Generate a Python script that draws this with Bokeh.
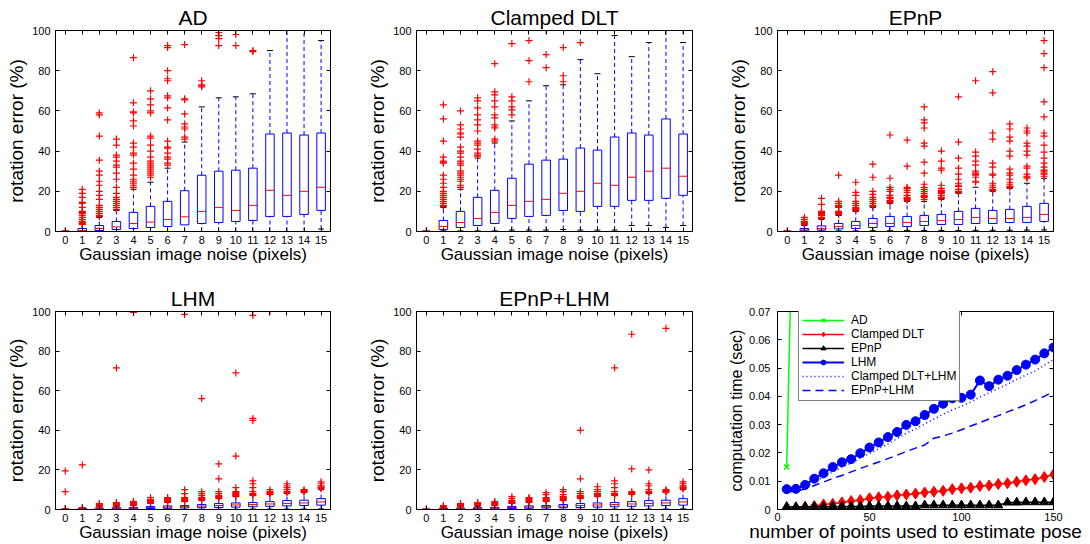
from bokeh.plotting import figure
from bokeh.layouts import column, row
from bokeh.models import (Range1d, FixedTicker, Legend, LegendItem, LinearAxis,
                          ColumnDataSource, CustomJSTickFormatter)
from bokeh.embed import file_html
from bokeh.resources import INLINE

FONT = "Liberation Sans"
BLUE = "#0000ff"
RED = "#ff0000"
GREEN = "#00ff00"

noise = list(range(16))
noise_ticks = list(range(16))
err_ticks = [0, 20, 40, 60, 80, 100]

# ---------------- AD ----------------
ad_lo = [0, 0, 0, 0, 0, 0, 0, 0, 0, 0, 0, 0, 0, 0, 0, 1.2]
ad_q1 = [0, 0.1, 0.5, 1, 1.5, 2, 2.5, 3.3, 4, 4.5, 5, 5.5, 7.5, 7.5, 8.5, 10.5]
ad_med = [0, 0.5, 1.5, 2.3, 4, 4.7, 6, 7.3, 10, 12, 10.5, 13, 20.5, 18, 20, 22]
ad_q3 = [0.1, 1.5, 3, 5, 9.5, 12.5, 15, 20.3, 28, 30, 30.5, 31.5, 48.5, 49, 48, 49]
ad_hi = [0.2, 3.5, 7, 10.5, 21, 24.5, 31.5, 44.5, 62, 66.5, 67, 68.5, 90, 130, 130, 95]
ad_out = [
    [0.3],
    [21, 19, 17, 14.5, 14, 12, 10, 9.5, 9, 8, 7, 6, 5, 4.5, 4, 3.5],
    [59, 58, 47.5, 35.5, 30, 28, 25, 23, 20, 18, 16, 13, 12, 11, 10, 9, 8, 7.5],
    [46, 43, 38, 37, 35, 33, 32, 29, 26, 22, 19, 17, 16, 15, 14, 13, 12, 11],
    [86.5, 64, 59.5, 59, 55, 52.5, 44, 42, 39, 38, 34, 31, 28, 26, 25, 24, 23, 22],
    [70, 66, 63, 60, 59, 47.5, 46.5, 43, 40, 37, 35, 34, 33, 32, 31, 30, 29, 28, 27],
    [92.5, 91.5, 80, 76, 75, 67.5, 66.5, 61.5, 55.5, 45, 42, 41.5, 39, 37, 36, 34, 33],
    [93, 66, 65.5, 58.5, 53.5, 52, 51, 47, 46],
    [75, 73, 72.5, 72],
    [99, 97.5, 96, 92.5],
    [98, 92.5],
    [90, 89.5],
    [], [], [], [],
]

# ---------------- Clamped DLT ----------------
dlt_lo = [0, 0.3, 0.3, 0.3, 0.3, 0.7, 0.7, 0.7, 1, 0.7, 0.7, 0.7, 3, 3, 2, 3]
dlt_q1 = [0, 1, 2, 3, 4, 6.5, 7.5, 8, 10.5, 10, 12.5, 12.5, 15.5, 15.5, 16.5, 18]
dlt_med = [0, 2.5, 4.5, 6.5, 9.5, 13, 15, 16, 19, 20, 24, 23, 27, 30, 31.5, 27.5]
dlt_q3 = [0.1, 5.5, 10, 17, 20.5, 26.5, 33.5, 35.5, 36, 41.5, 40.5, 47, 49, 48, 56, 48.5]
dlt_hi = [0.2, 12, 21, 36.5, 44, 55, 65, 72.5, 73, 85.5, 78.5, 97.5, 87, 94, 130, 94]
dlt_out = [
    [0.3],
    [63, 56, 45, 37, 35, 34.5, 34, 28, 26, 24, 22, 20, 19, 18, 17, 16, 15, 14, 13, 12.5],
    [60, 53, 51, 49, 48.5, 47, 42, 40, 39, 37, 35, 34, 33, 30, 29, 28, 27, 26, 25, 23, 22],
    [66.5, 65, 61.5, 58, 55.5, 53, 50, 45, 44, 43, 41, 39, 38, 37.5],
    [83.5, 69.5, 68, 65, 62, 58, 56.5, 53, 52, 51.5, 46, 45],
    [93.5, 67, 65, 62, 60.5, 58],
    [95, 85, 74.5],
    [100, 88, 81.5],
    [91.5, 77.5, 74.5],
    [94],
    [], [], [], [], [],
    [100],
]

# ---------------- EPnP ----------------
epnp_lo = [0, 0.1, 0.2, 0.3, 0.3, 0.4, 0.4, 0.5, 0.5, 0.5, 0.5, 0.6, 0.6, 0.6, 0.7, 0.8]
epnp_q1 = [0, 0.3, 0.7, 1.3, 1.5, 2, 2.5, 2.5, 3, 3.5, 3.5, 4, 4, 4.5, 4.5, 5]
epnp_med = [0, 0.8, 1.5, 2.5, 3, 4, 4, 4.5, 5, 5.5, 6, 7, 6.5, 6.5, 7, 8.5]
epnp_q3 = [0.1, 1.5, 2.8, 4, 5, 6.5, 7.5, 7.5, 8, 8.5, 10, 11.5, 10.5, 11, 12.5, 14]
epnp_hi = [0.2, 3, 6, 8, 10, 12, 14, 15, 15, 16, 19, 22, 20, 21.5, 24, 26.5]
epnp_out = [
    [0.3],
    [7, 6, 5, 4.5, 4, 3.5],
    [16.5, 13.5, 10, 9.5, 9, 8.5, 8, 7, 6.5],
    [28, 15, 14, 13, 12.5, 12, 10, 9.5, 9, 8.5],
    [24.5, 19.5, 18, 15, 14, 13, 12, 11.5, 11, 10.5],
    [33.5, 27, 20, 18.5, 17, 16, 15, 14, 13, 12.5],
    [48, 26.5, 22, 21, 20, 18, 17, 16.5, 15.5, 15, 14.5],
    [45.5, 32.5, 22, 21.5, 20.5, 19.5, 18, 17, 16.5, 16, 15.5],
    [62, 55.5, 54, 51.5, 44, 42.5, 34.5, 29, 23.5, 22, 21, 20, 19, 18, 17.5, 17, 16],
    [40, 35, 31.5, 30.5, 23, 21.5, 20.5, 20, 19.5, 19, 18, 17, 16.5],
    [67, 44.5, 36.5, 31.5, 28.5, 26, 24, 23, 22.5, 21, 20, 19.5],
    [75, 39.5, 37.5, 35, 33, 30, 29, 28.5, 28, 27, 25, 24.5],
    [79.5, 69, 49, 46, 34, 32, 28.5, 28, 24, 23, 22, 21, 20.5],
    [53.5, 51, 47, 45, 40, 37.5, 31, 29, 28, 26, 24.5, 23.5, 22.5, 22],
    [51.5, 50, 49, 44, 42.5, 40, 38, 32.5, 31.5, 28.5, 27.5, 27, 26.5],
    [95, 88.5, 81.5, 64.5, 57, 49, 47.5, 43, 39.5, 36.5, 34, 32, 30.5, 30, 29, 28.5, 27.5],
]

# ---------------- LHM ----------------
lhm_lo = [0, 0, 0, 0, 0, 0.1, 0.1, 0.1, 0.1, 0.1, 0.1, 0.2, 0.2, 0.2, 0.2, 0.3]
lhm_q1 = [0, 0.1, 0.2, 0.3, 0.4, 0.5, 0.6, 0.8, 0.9, 1, 1.2, 1.4, 1.6, 1.8, 2, 2.2]
lhm_med = [0, 0.3, 0.4, 0.6, 0.8, 1, 1.2, 1.4, 1.7, 2, 2.3, 2.5, 2.8, 3, 3.3, 3.8]
lhm_q3 = [0.1, 0.5, 0.7, 0.9, 1.1, 1.5, 1.8, 2, 2.5, 3, 3.3, 3.5, 4, 4.5, 4.7, 5.5]
lhm_hi = [0.2, 0.9, 1.3, 1.6, 2, 3, 3.5, 4, 4.5, 5.5, 6.5, 7, 7.5, 8, 8.5, 10]
lhm_out = [
    [19.5, 9, 0.5, 0.3],
    [22.5, 1, 0.8],
    [3, 2.5, 2, 1.5],
    [71.5, 3.5, 3, 2.5, 2, 1.8],
    [99.5, 4, 3.5, 3, 2.5, 2.2],
    [6, 5, 4.5, 4, 3.5, 3.2],
    [6, 5.5, 5, 4.5, 4, 3.8],
    [98.5, 10, 8, 6, 5.5, 5, 4.5, 4.2],
    [56, 9, 8, 7, 6, 5.5, 5, 4.8],
    [23, 15.5, 9, 8, 7, 6.5, 6, 5.8],
    [69, 27, 11, 9, 8.5, 8, 7.5, 7, 6.8],
    [98, 46, 45, 14.5, 13, 11, 9, 8, 7.5, 7.2],
    [100, 10, 9, 8.5, 8, 7.8],
    [13, 12, 11, 10, 9, 8.5],
    [10, 9.5, 9, 8.8],
    [14, 13, 12, 11.5, 11, 10.5],
]

# ---------------- EPnP+LHM ----------------
el_lo = [0, 0, 0, 0, 0, 0.1, 0.1, 0.1, 0.1, 0.1, 0.1, 0.2, 0.2, 0.2, 0.2, 0.3]
el_q1 = [0, 0.1, 0.2, 0.3, 0.4, 0.5, 0.6, 0.8, 0.9, 1, 1.2, 1.4, 1.6, 1.8, 2, 2.2]
el_med = [0, 0.3, 0.4, 0.6, 0.8, 1, 1.2, 1.4, 1.7, 2, 2.3, 2.5, 2.8, 3, 3.3, 3.8]
el_q3 = [0.1, 0.5, 0.7, 0.9, 1.1, 1.5, 1.8, 2, 2.5, 3, 3.3, 3.5, 4, 4.5, 4.7, 5.5]
el_hi = [0.2, 0.9, 1.3, 1.6, 2, 3, 3.5, 4, 4.5, 5.5, 6.5, 7, 7.5, 8, 8.5, 10]
el_out = [
    [0.3],
    [2, 1.5, 1, 0.8],
    [3, 2.5, 2, 1.5],
    [3.5, 3, 2.5, 2],
    [4, 3.5, 3, 2.5, 2.2],
    [6.5, 5.5, 4.5, 4, 3.5, 3.2],
    [6, 5.5, 5, 4.5, 4, 3.8],
    [8.5, 7.5, 6, 5.5, 5, 4.5, 4.2],
    [10, 9, 7.5, 6.5, 6, 5.5, 5, 4.8],
    [40, 15.5, 9, 8, 7, 6.5, 6, 5.8],
    [11.5, 10, 9, 8, 7.5, 7, 6.8],
    [71.5, 14.5, 13, 11, 9, 8, 7.5, 7.2],
    [100, 88.5, 20.5, 9, 8.5, 8, 7.8],
    [20, 13, 12, 10, 9, 8.5],
    [91.5, 10, 9.5, 9, 8.8],
    [14, 13, 12, 11.5, 11, 10.5],
]

# ---------------- computation time ----------------
npts = [5, 10, 15, 20, 25, 30, 35, 40, 45, 50, 55, 60, 65, 70, 75,
        80, 85, 90, 95, 100, 105, 110, 115, 120, 125, 130, 135, 140, 145, 150]
ad_npts = [5, 10]
ad_time = [0.015, 0.16]
dlt_time = [0.0003, 0.0005, 0.0008, 0.0012, 0.0018, 0.0020, 0.0025, 0.0030, 0.0033, 0.0040,
            0.0043, 0.0045, 0.0050, 0.0053, 0.0056, 0.0060, 0.0063, 0.0066, 0.0072, 0.0075,
            0.0077, 0.0083, 0.0085, 0.0090, 0.0093, 0.0098, 0.0103, 0.0107, 0.0115, 0.0124]
epnp_time = [0.0010, 0.0009, 0.0010, 0.0010, 0.0010, 0.0011, 0.0011, 0.0011, 0.0011, 0.0012,
             0.0012, 0.0012, 0.0012, 0.0012, 0.0012, 0.0015, 0.0015, 0.0015, 0.0015, 0.0015,
             0.0015, 0.0015, 0.0015, 0.0015, 0.0025, 0.0025, 0.0026, 0.0026, 0.0026, 0.0026]
lhm_time = [0.0072, 0.0073, 0.0087, 0.0109, 0.0128, 0.0150, 0.0167, 0.0178, 0.0199, 0.0219,
            0.0237, 0.0256, 0.0274, 0.0299, 0.0312, 0.0334, 0.0356, 0.0374, 0.0393, 0.0395,
            0.0406, 0.0456, 0.0436, 0.0459, 0.0473, 0.0493, 0.0512, 0.0530, 0.0552, 0.0573]
dltlhm_time = [0.0068, 0.0068, 0.0080, 0.0097, 0.0115, 0.0133, 0.0150, 0.0163, 0.0182, 0.0198,
               0.0215, 0.0232, 0.0250, 0.0270, 0.0285, 0.0302, 0.0320, 0.0337, 0.0352, 0.0365,
               0.0380, 0.0398, 0.0412, 0.0428, 0.0443, 0.0460, 0.0475, 0.0490, 0.0510, 0.0530]
epnplhm_time = [0.0062, 0.0065, 0.0072, 0.0085, 0.0097, 0.0110, 0.0120, 0.0133, 0.0145, 0.0157,
                0.0168, 0.0180, 0.0192, 0.0205, 0.0217, 0.0228, 0.0252, 0.0260, 0.0270, 0.0282,
                0.0295, 0.0307, 0.0320, 0.0332, 0.0345, 0.0357, 0.0370, 0.0385, 0.0400, 0.0418]
time_xticks = [0, 50, 100, 150]
time_yticks = [0, 0.01, 0.02, 0.03, 0.04, 0.05, 0.06, 0.07]


def matlab_axes(p, xticks, yticks, tick_font="11px"):
    """Style the figure like a MATLAB axes box; returns (bottom_axis, left_axis)."""
    bottom = p.below[0]
    left = p.left[0]
    bottom.ticker = FixedTicker(ticks=xticks)
    left.ticker = FixedTicker(ticks=yticks)
    top = LinearAxis(ticker=FixedTicker(ticks=xticks))
    right = LinearAxis(ticker=FixedTicker(ticks=yticks))
    p.add_layout(top, "above")
    p.add_layout(right, "right")
    for ax in (bottom, left, top, right):
        ax.major_tick_in = 4
        ax.major_tick_out = 0
        ax.minor_tick_line_color = None
        ax.axis_line_color = "black"
        ax.major_tick_line_color = "black"
        ax.major_label_text_font = FONT
        ax.major_label_text_font_size = tick_font
        ax.major_label_text_color = "black"
        ax.axis_label_text_font = FONT
        ax.axis_label_text_font_style = "normal"
        ax.axis_label_text_color = "black"
    for ax in (top, right):
        ax.major_label_text_color = None
        ax.major_label_text_font_size = "0px"
        ax.major_label_standoff = 0
    p.grid.visible = False
    p.outline_line_color = "black"
    p.background_fill_color = "white"
    p.border_fill_color = "white"
    return bottom, left


def box_panel(title, lo, q1, med, q3, hi, out, width, height, bl, br, bt, bb,
              title_standoff, xl_standoff, xt_standoff):
    p = figure(width=width, height=height, x_range=Range1d(-0.57, 15.55),
               y_range=Range1d(0, 100), output_backend="svg", toolbar_location=None,
               min_border_left=bl, min_border_right=br, min_border_top=bt,
               min_border_bottom=bb, title=title)
    p.title.align = "center"
    p.title.text_font = FONT
    p.title.text_font_size = "21px"
    p.title.text_font_style = "normal"
    p.title.text_color = "black"
    p.title.standoff = title_standoff
    src = ColumnDataSource(dict(x=noise, lo=lo, q1=q1, med=med, q3=q3, hi=hi,
                                ml=[i - 0.25 for i in noise], mr=[i + 0.25 for i in noise]))
    p.segment(x0="x", y0="q3", x1="x", y1="hi", source=src, line_color=BLUE,
              line_dash="4 3", line_width=1)
    p.segment(x0="x", y0="lo", x1="x", y1="q1", source=src, line_color=BLUE,
              line_dash="4 3", line_width=1)
    p.scatter(x="x", y="hi", source=src, marker="dash", size=6, line_color="black")
    p.scatter(x="x", y="lo", source=src, marker="dash", size=6, line_color="black")
    p.vbar(x="x", bottom="q1", top="q3", width=0.5, source=src, fill_alpha=0,
           line_color=BLUE, line_width=1)
    p.segment(x0="ml", y0="med", x1="mr", y1="med", source=src, line_color=RED,
              line_width=1)
    ox = [noise[i] for i, vals in enumerate(out) for _ in vals]
    oy = [v for vals in out for v in vals]
    p.scatter(ox, oy, marker="cross", size=7, line_color=RED, line_width=1.2)
    xa, ya = matlab_axes(p, noise_ticks, err_ticks)
    xa.axis_label = "Gaussian image noise (pixels)"
    ya.axis_label = "rotation error (%)"
    xa.axis_label_text_font_size = "17px"
    ya.axis_label_text_font_size = "19px"
    xa.axis_label_standoff = xl_standoff
    xa.major_label_standoff = xt_standoff
    ya.axis_label_standoff = 2
    ya.major_label_standoff = 5
    return p


f1 = box_panel("AD", ad_lo, ad_q1, ad_med, ad_q3, ad_hi, ad_out,
               360, 280, 55, 30, 30, 49, 3, -2, 4)
f2 = box_panel("Clamped DLT", dlt_lo, dlt_q1, dlt_med, dlt_q3, dlt_hi, dlt_out,
               360, 280, 56, 28, 30, 49, 3, -2, 4)
f3 = box_panel("EPnP", epnp_lo, epnp_q1, epnp_med, epnp_q3, epnp_hi, epnp_out,
               370, 280, 57, 37, 30, 49, 3, -2, 4)
f4 = box_panel("LHM", lhm_lo, lhm_q1, lhm_med, lhm_q3, lhm_hi, lhm_out,
               360, 264, 55, 30, 31, 34, 4, -2, 4)
f5 = box_panel("EPnP+LHM", el_lo, el_q1, el_med, el_q3, el_hi, el_out,
               360, 264, 56, 28, 31, 34, 4, -2, 4)

# computation time panel
f6 = figure(width=370, height=264, x_range=Range1d(0, 150), y_range=Range1d(0, 0.07),
            output_backend="svg", toolbar_location=None,
            min_border_left=57, min_border_right=37, min_border_top=29, min_border_bottom=34)
r_ad_l = f6.line(ad_npts, ad_time, line_color=GREEN, line_width=1.5)
r_ad_m = f6.scatter(ad_npts, ad_time, marker="x", size=7, line_color=GREEN, line_width=1.5)
r_dlt_l = f6.line(npts, dlt_time, line_color=RED, line_width=1.5)
r_dlt_m = f6.scatter(npts, dlt_time, marker="diamond", size=11, line_color=RED, fill_color=RED)
r_ep_l = f6.line(npts, epnp_time, line_color="black", line_width=1.5)
r_ep_m = f6.scatter(npts, epnp_time, marker="triangle", size=9, line_color="black",
                    fill_color="black")
r_lhm_l = f6.line(npts, lhm_time, line_color=BLUE, line_width=2)
r_lhm_m = f6.scatter(npts, lhm_time, marker="circle", size=9, line_color=BLUE, fill_color=BLUE)
r_dl = f6.line(npts, dltlhm_time, line_color=BLUE, line_width=1.5, line_dash="1 3")
r_el = f6.line(npts, epnplhm_time, line_color=BLUE, line_width=1.5, line_dash="8 5")
txa, tya = matlab_axes(f6, time_xticks, time_yticks)
tya.formatter = CustomJSTickFormatter(code="return tick == 0 ? '0' : tick.toFixed(2);")
txa.axis_label = "number of points used to estimate pose"
tya.axis_label = "computation time (sec)"
txa.axis_label_text_font_size = "19px"
tya.axis_label_text_font_size = "16px"
txa.axis_label_standoff = -3
txa.major_label_standoff = 3
tya.axis_label_standoff = 1
tya.major_label_standoff = 7

legend = Legend(items=[
    LegendItem(label="AD", renderers=[r_ad_l, r_ad_m]),
    LegendItem(label="Clamped DLT", renderers=[r_dlt_l, r_dlt_m]),
    LegendItem(label="EPnP", renderers=[r_ep_l, r_ep_m]),
    LegendItem(label="LHM", renderers=[r_lhm_l, r_lhm_m]),
    LegendItem(label="Clamped DLT+LHM", renderers=[r_dl]),
    LegendItem(label="EPnP+LHM", renderers=[r_el]),
], location=(21, 108))
legend.label_text_font = FONT
legend.label_text_font_size = "12px"
legend.label_text_color = "black"
legend.label_height = 12
legend.glyph_height = 12
legend.glyph_width = 42
legend.label_standoff = 7
legend.spacing = 0
legend.padding = 3
legend.margin = 0
legend.border_line_color = "black"
legend.border_line_width = 1
legend.background_fill_color = "white"
legend.background_fill_alpha = 1
f6.add_layout(legend)

layout = column(row(f1, f2, f3), row(f4, f5, f6))
open("out.html", "w").write(file_html(layout, INLINE))
